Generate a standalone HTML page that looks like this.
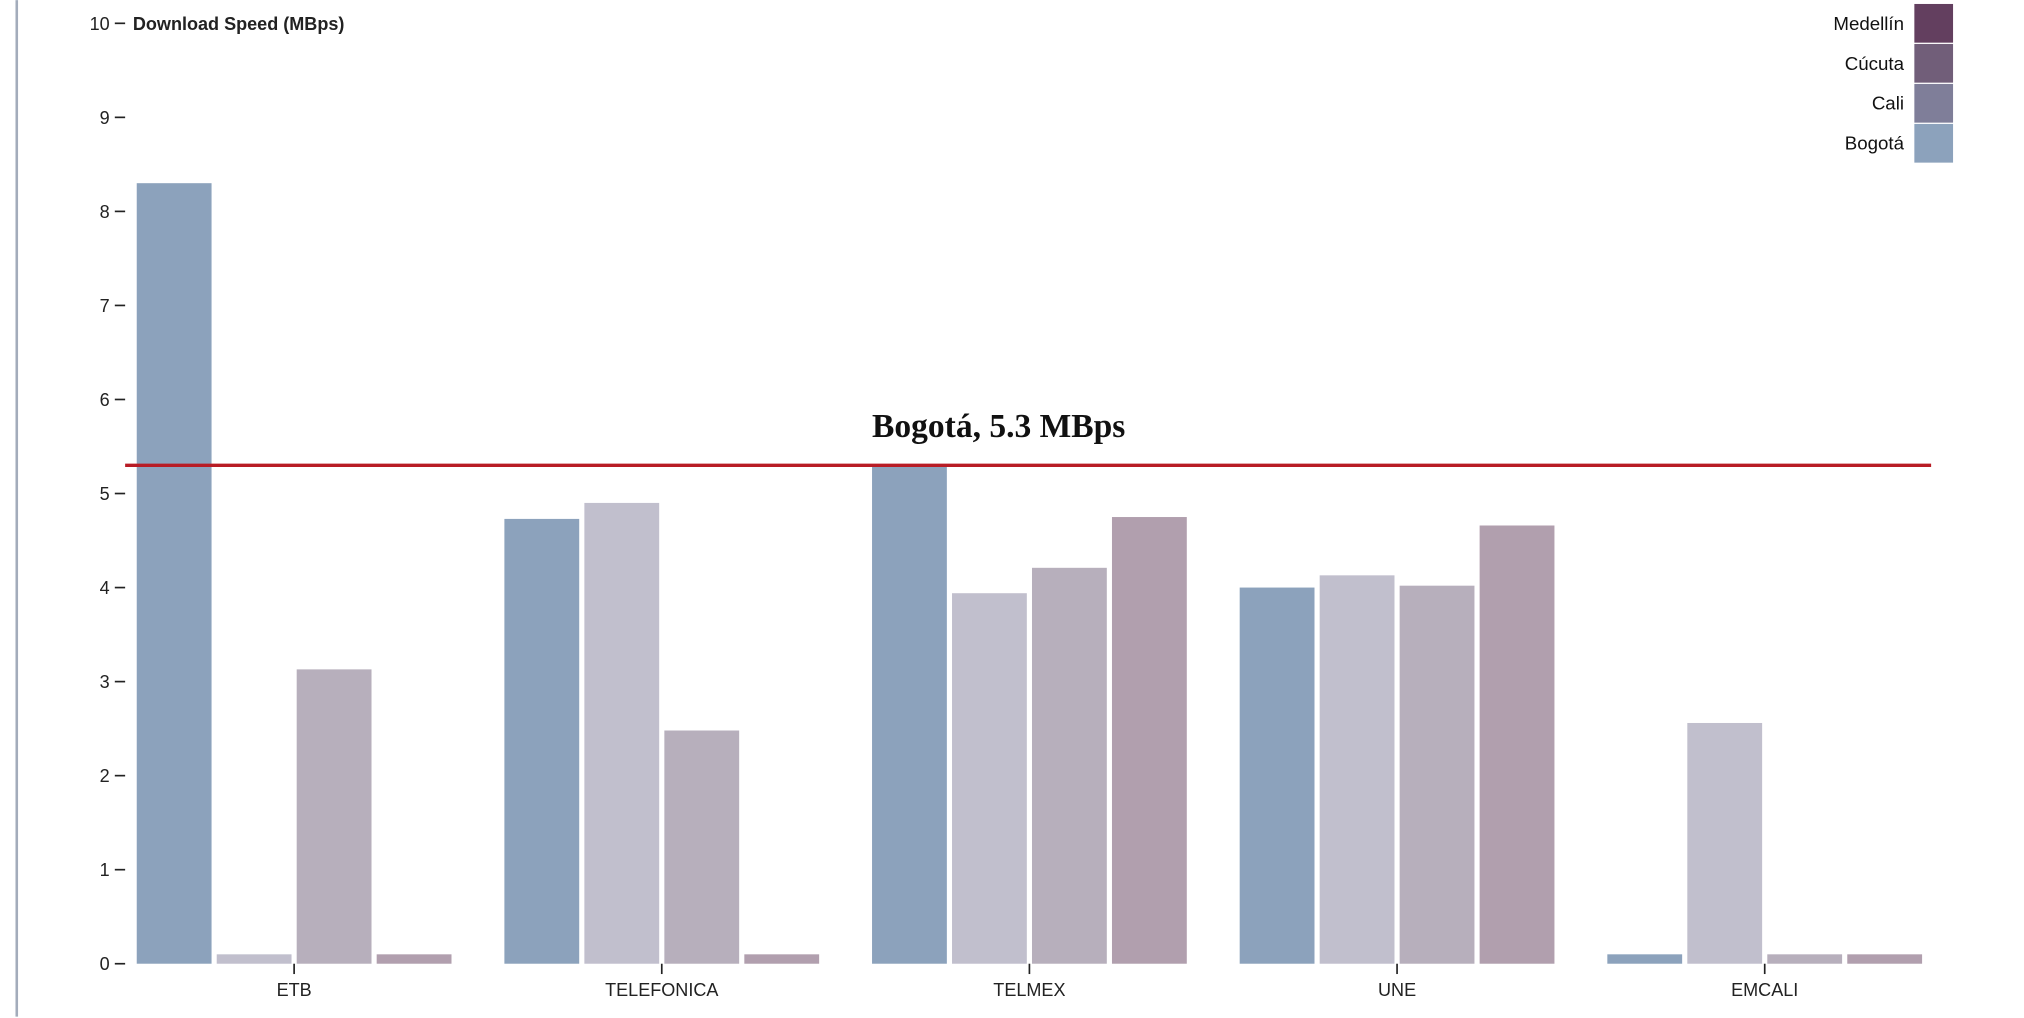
<!DOCTYPE html>
<html><head><meta charset="utf-8"><style>
html,body{margin:0;padding:0;background:#fff;}
svg{display:block;}
text{font-family:"Liberation Sans",sans-serif;}
</style></head>
<body>
<svg id="chart" width="2024" height="1018" viewBox="0 0 1569 789" xmlns="http://www.w3.org/2000/svg">
<line x1="13" y1="0" x2="13" y2="788" stroke="#a3acbb" stroke-width="2"/>
<g id="yaxis"></g>
<text x="103" y="23" font-size="14" font-weight="bold" fill="#222">Download Speed (MBps)</text>
<g id="bars"></g>
<g id="xaxis"></g>
<g id="ref"></g>
<g id="legend"></g>
</svg>
<script>
const categories = ["ETB","TELEFONICA","TELMEX","UNE","EMCALI"];
const seriesNames = ["Bogotá","Cali","Cúcuta","Medellín"];
const bogota = [8.3, 4.73, 5.3, 4.0, 0.1];
const cali = [0.1, 4.9, 3.94, 4.13, 2.56];
const cucuta = [3.13, 2.48, 4.21, 4.02, 0.1];
const medellin = [0.1, 0.1, 4.75, 4.66, 0.1];
const yTicks = [0,1,2,3,4,5,6,7,8,9,10];
const refValue = 5.3;
const refLabel = "Bogotá, 5.3 MBps";
const legendNames = ["Medellín","Cúcuta","Cali","Bogotá"];

const series = [bogota, cali, cucuta, medellin];
const barColors = ["#8ca2bc","#c1bfcd","#b7afbc","#b19fae"];
const legendColors = ["#633f5f","#715e79","#7f7e99","#8ca2bc"];
const NS = "http://www.w3.org/2000/svg";
const y0 = 747, y10 = 18;
function y(v){ return y0 - (y0 - y10) * v / 10; }
const groupStart = 106, groupPitch = 285, barW = 58, barPitch = 62;
function xGroup(i){ return groupStart + i * groupPitch; }
function mk(tag, attrs, parent){ const e = document.createElementNS(NS, tag); for (const k in attrs) e.setAttribute(k, attrs[k]); parent.appendChild(e); return e; }

const yaxis = document.getElementById('yaxis');
yTicks.forEach(t => {
  const g = mk('g', {}, yaxis);
  
  
  mk('line', {x1:89, x2:97, y1:y(t), y2:y(t), stroke:'#222', 'stroke-width':1.3}, g);
  const tx = mk('text', {x:85, y:y(t)+5, 'text-anchor':'end', 'font-size':14, fill:'#222'}, g);
  tx.textContent = t;
});

const bars = document.getElementById('bars');
categories.forEach((c, i) => {
  series.forEach((s, j) => {
    const v = s[i];
    const r = mk('rect', {x: xGroup(i) + j*barPitch, y: y(v), width: barW, height: y0 - y(v), fill: barColors[j]}, bars);
    
    
  });
});

const xaxis = document.getElementById('xaxis');
categories.forEach((c, i) => {
  const cx = xGroup(i) + (4*barPitch - 4)/2;
  const g = mk('g', {}, xaxis);
  
  
  mk('line', {x1:cx, x2:cx, y1:y0, y2:y0+8, stroke:'#222', 'stroke-width':1.3}, g);
  const tx = mk('text', {x:cx, y:y0+25, 'text-anchor':'middle', 'font-size':14, fill:'#222'}, g);
  tx.textContent = c;
});

const ref = document.getElementById('ref');
const rl = mk('line', {x1:97, x2:1497, y1:y(refValue), y2:y(refValue), stroke:'#b81c25', 'stroke-width':2.6}, ref);


const rt = mk('text', {x:676, y:y(refValue)-22, 'font-size':26, 'font-weight':'bold', fill:'#111', style:'font-family:"Liberation Serif", serif'}, ref);


rt.textContent = refLabel;

const legend = document.getElementById('legend');
legendNames.forEach((n, k) => {
  const g = mk('g', {}, legend);
  
  
  mk('rect', {x:1484, y:3 + k*31, width:30, height:30, fill:legendColors[k]}, g);
  const tx = mk('text', {x:1476, y:23 + k*31, 'text-anchor':'end', 'font-size':14.5, fill:'#111'}, g);
  tx.textContent = n;
});
</script>
</body></html>
